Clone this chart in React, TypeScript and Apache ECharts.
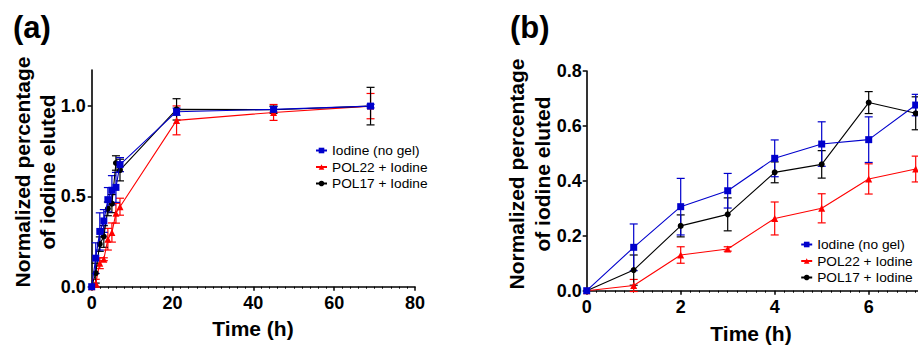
import React, { useEffect, useRef } from 'react';
import * as echarts from 'echarts';

// ---- data (time in h, normalized fraction eluted, error = SD) ----
const times = [0, 1, 2, 3, 4, 5, 6, 7, 21, 45, 69];
const iodineMean = [0, 0.158, 0.306, 0.364, 0.482, 0.534, 0.55, 0.676, 0.969, 0.982, 1.0];
const iodineErr = [0, 0.085, 0.103, 0.063, 0.067, 0.081, 0.083, 0.039, 0.02, 0.015, 0.01];
const pol22Mean = [0, 0.019, 0.13, 0.152, 0.263, 0.3, 0.407, 0.443, 0.921, 0.965, 1.0];
const pol22Err = [0, 0.022, 0.03, 0.008, 0.06, 0.053, 0.055, 0.047, 0.08, 0.044, 0.07];
const pol17Mean = [0, 0.075, 0.236, 0.278, 0.431, 0.46, 0.685, 0.646, 0.982, 0.98, 1.0];
const pol17Err = [0, 0.055, 0.04, 0.06, 0.038, 0.05, 0.04, 0.06, 0.059, 0.02, 0.104];

const zoomCount = 8; // panel (b) shows the first 8 hours

const seriesNames = ['Iodine (no gel)', 'POL22 + Iodine', 'POL17 + Iodine'];
const panelLabels = ['(a)', '(b)'];
const xTitle = 'Time (h)';
const yTitleLines = ['Normalized percentage', 'of iodine eluted'];
const yTicksA = [0, 0.5, 1.0];

const FONT = 'Liberation Sans, Arial, Helvetica, sans-serif';
const BLUE = '#0000cc';
const RED = '#ff0000';
const BLACK = '#000000';

function pairs(mean: number[], n: number) {
  return times.slice(0, n).map((t, i) => [t, mean[i]]);
}
function triples(mean: number[], err: number[], n: number) {
  return times.slice(0, n).map((t, i) => [t, mean[i], err[i]]);
}

function errRender(color: string) {
  return (_params: any, api: any) => {
    const x = api.value(0);
    const y = api.value(1);
    const e = api.value(2);
    if (!e) return { type: 'group', children: [] };
    const top = api.coord([x, y + e]);
    const bot = api.coord([x, y - e]);
    const hw = 4;
    const style = { stroke: color, lineWidth: 1.2 };
    return {
      type: 'group',
      children: [
        { type: 'line', shape: { x1: top[0], y1: top[1], x2: bot[0], y2: bot[1] }, style },
        { type: 'line', shape: { x1: top[0] - hw, y1: top[1], x2: top[0] + hw, y2: top[1] }, style },
        { type: 'line', shape: { x1: bot[0] - hw, y1: bot[1], x2: bot[0] + hw, y2: bot[1] }, style },
      ],
    };
  };
}

const defs = [
  { name: seriesNames[1], mean: pol22Mean, err: pol22Err, color: RED, symbol: 'triangle', size: 7 },
  { name: seriesNames[2], mean: pol17Mean, err: pol17Err, color: BLACK, symbol: 'circle', size: 6 },
  { name: seriesNames[0], mean: iodineMean, err: iodineErr, color: BLUE, symbol: 'rect', size: 7 },
];

function buildSeries(gridIdx: number, n: number) {
  const out: any[] = [];
  defs.forEach((d, k) => {
    out.push({
      type: 'custom',
      name: d.name + ' err' + gridIdx,
      xAxisIndex: gridIdx,
      yAxisIndex: gridIdx,
      renderItem: errRender(d.color),
      data: triples(d.mean, d.err, n),
      z: 2 + k,
      silent: true,
    });
  });
  defs.forEach((d, k) => {
    out.push({
      type: 'line',
      name: d.name,
      xAxisIndex: gridIdx,
      yAxisIndex: gridIdx,
      data: pairs(d.mean, n),
      symbol: d.symbol,
      symbolSize: d.size,
      showAllSymbol: true,
      clip: false,
      lineStyle: { color: d.color, width: 1.1 },
      itemStyle: { color: d.color },
      z: 6 + k,
    });
  });
  return out;
}

const axisLine = { show: true, lineStyle: { color: '#000', width: 1.6 } };
const axisLabelBase = { color: '#000', fontSize: 18, fontWeight: 'bold' as const, fontFamily: FONT };

export default function App() {
  const ref = useRef<HTMLDivElement>(null);
  useEffect(() => {
    if (!ref.current) return;
    const chart = echarts.init(ref.current, undefined, { renderer: 'svg' });
    const legendBase = {
      orient: 'vertical' as const,
      itemWidth: 11,
      itemHeight: 7,
      itemGap: 2.5,
      padding: 0,
      textStyle: { color: '#000', fontSize: 13.7, fontFamily: FONT },
      data: seriesNames,
      selectedMode: false,
    };
    const titleText = (x: number, y: number, text: string, size: number, rot = 0, align = 'center') => ({
      type: 'text',
      x,
      y,
      rotation: rot,
      style: {
        text,
        fill: '#000',
        font: `bold ${size}px ${FONT}`,
        textAlign: align,
        textVerticalAlign: 'middle',
      },
    });
    chart.setOption({
      animation: false,
      backgroundColor: '#fff',
      grid: [
        { left: 91.7, top: 70, width: 323.3, height: 216.7, containLabel: false, outerBoundsMode: 'none' },
        { left: 586.7, top: 71, width: 376, height: 219.7, containLabel: false, outerBoundsMode: 'none' },
      ],
      xAxis: [
        {
          type: 'value', gridIndex: 0, min: 0, max: 80, interval: 20,
          axisLine, splitLine: { show: false },
          axisTick: { length: 4, lineStyle: { color: '#000', width: 1.5 } },
          minorTick: { show: true, splitNumber: 10, length: 2, lineStyle: { color: '#000', width: 1 } },
          axisLabel: { ...axisLabelBase, margin: 7 },
        },
        {
          type: 'value', gridIndex: 1, min: 0, max: 8, interval: 2,
          axisLine, splitLine: { show: false },
          axisTick: { length: 4, lineStyle: { color: '#000', width: 1.5 } },
          minorTick: { show: true, splitNumber: 10, length: 2, lineStyle: { color: '#000', width: 1 } },
          axisLabel: {
            ...axisLabelBase, margin: 7, showMaxLabel: false,
            formatter: (v: number) => (v > 7 ? '' : String(v)),
          },
        },
      ],
      yAxis: [
        {
          type: 'value', gridIndex: 0, min: 0, max: 1.2,
          axisLine, splitLine: { show: false },
          axisTick: { show: true, length: 4, customValues: yTicksA, lineStyle: { color: '#000', width: 1.5 } },
          axisLabel: { ...axisLabelBase, margin: 6, customValues: yTicksA, formatter: (v: number) => v.toFixed(1) },
        },
        {
          type: 'value', gridIndex: 1, min: 0, max: 0.8, interval: 0.2,
          axisLine, splitLine: { show: false },
          axisTick: { length: 4, lineStyle: { color: '#000', width: 1.5 } },
          axisLabel: { ...axisLabelBase, margin: 5, formatter: (v: number) => v.toFixed(1) },
        },
      ],
      legend: [
        { ...legendBase, left: 315, top: 143.5 },
        { ...legendBase, left: 800.2, top: 237.5 },
      ],
      series: [...buildSeries(0, times.length), ...buildSeries(1, zoomCount)],
      graphic: [
        titleText(13, 27, panelLabels[0], 31, 0, 'left'),
        titleText(510, 27, panelLabels[1], 31, 0, 'left'),
        titleText(22, 172, yTitleLines[0], 21, Math.PI / 2),
        titleText(47.5, 172, yTitleLines[1], 21, Math.PI / 2),
        titleText(516, 174, yTitleLines[0], 21, Math.PI / 2),
        titleText(542, 174, yTitleLines[1], 21, Math.PI / 2),
        titleText(253, 328, xTitle, 21),
        titleText(751, 333, xTitle, 21),
      ],
    });
    return () => chart.dispose();
  }, []);
  return (
    <div
      ref={ref}
      style={{ position: 'absolute', left: 0, top: 0, width: 918, height: 345, background: '#fff' }}
    />
  );
}
